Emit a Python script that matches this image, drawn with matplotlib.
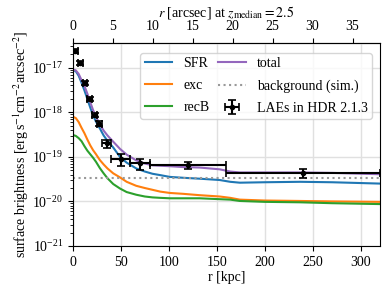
import numpy as np
import matplotlib
matplotlib.use("Agg")
import matplotlib.pyplot as plt

plt.rcParams['font.family'] = ['Liberation Serif', 'DejaVu Serif']
plt.rcParams['mathtext.fontset'] = 'stix'
plt.rcParams['font.size'] = 10

# model curves (log10 surface brightness) on radius grid [kpc]
r_model = [0, 3, 6, 9, 12, 15, 18, 21, 24, 28, 32, 36, 42, 49, 56, 66, 75, 83, 91, 101,
           115, 132, 153, 164, 174, 200, 237, 270, 320]
log_sfr = [-17.05, -17.08, -17.18, -17.34, -17.51, -17.70, -17.89, -18.07, -18.21, -18.36,
           -18.52, -18.64, -18.79, -19.00, -19.13, -19.26, -19.33, -19.38, -19.41, -19.45,
           -19.47, -19.49, -19.52, -19.56, -19.58, -19.57, -19.56, -19.57, -19.60]
log_total = [-17.04, -17.06, -17.14, -17.28, -17.41, -17.58, -17.77, -17.95, -18.10, -18.27,
             -18.41, -18.52, -18.66, -18.82, -18.95, -19.08, -19.15, -19.19, -19.20, -19.21,
             -19.23, -19.24, -19.28, -19.33, -19.35, -19.35, -19.35, -19.36, -19.39]
log_exc = [-18.10, -18.13, -18.22, -18.35, -18.47, -18.61, -18.74, -18.85, -18.94, -19.07,
           -19.17, -19.26, -19.37, -19.46, -19.56, -19.65, -19.70, -19.74, -19.78, -19.81,
           -19.83, -19.86, -19.89, -19.92, -19.96, -19.98, -19.99, -20.00, -20.01]
log_recB = [-18.51, -18.53, -18.58, -18.65, -18.76, -18.86, -18.94, -19.02, -19.11, -19.25,
            -19.37, -19.48, -19.61, -19.71, -19.79, -19.85, -19.89, -19.91, -19.92, -19.93,
            -19.93, -19.93, -19.95, -19.96, -19.99, -20.01, -20.02, -20.04, -20.06]

# LAE stacked measurements
r_lae = [2.5, 7.5, 12.5, 17.5, 22.5, 27.5, 35, 50, 70, 120, 240]
r_lae_err = [2.5, 2.5, 2.5, 2.5, 2.5, 2.5, 5, 10, 10, 40, 80]
sb_lae = [2.4e-17, 1.3e-17, 4.6e-18, 2.0e-18, 8.7e-19, 5.6e-19, 2.0e-19, 8.9e-20, 7.1e-20, 6.5e-20, 4.4e-20]
sb_lae_err = [2.5e-18, 1.4e-18, 5e-19, 2.2e-19, 1.0e-19, 6.5e-20, 4.0e-20, 2.6e-20, 2.0e-20, 1.1e-20, 1.05e-20]

background = 3.3e-20
kpc_per_arcsec = 8.33

fig = plt.figure(figsize=(3.9, 2.96), dpi=100)
ax = fig.add_axes([0.187, 0.169, 0.787, 0.686])

ax.plot(r_model, 10**np.array(log_sfr), color='C0', lw=1.5, label='SFR')
ax.plot(r_model, 10**np.array(log_exc), color='C1', lw=1.5, label='exc')
ax.plot(r_model, 10**np.array(log_recB), color='C2', lw=1.5, label='recB')
ax.plot(r_model, 10**np.array(log_total), color='C4', lw=1.5, label='total')
ax.axhline(background, color='0.6', ls=':', lw=1.5, label='background (sim.)')
ax.errorbar(r_lae, sb_lae, xerr=r_lae_err, yerr=sb_lae_err, fmt='o', color='k',
            ms=3, lw=1.5, capsize=3, capthick=1.2, label='LAEs in HDR 2.1.3')

ax.set_yscale('log')
ax.set_xlim(0, 320)
ax.set_ylim(1e-21, 3.6e-17)
ax.set_yticks([1e-21, 1e-20, 1e-19, 1e-18, 1e-17])
ax.grid(True, color='0.88', lw=1)
ax.set_axisbelow(True)
ax.set_xlabel('r [kpc]', labelpad=2)
ax.set_ylabel(r'surface brightness [erg$\,$s$^{-1}$cm$^{-2}$arcsec$^{-2}$]', labelpad=1)

sec = ax.secondary_xaxis('top', functions=(lambda x: x / kpc_per_arcsec, lambda x: x * kpc_per_arcsec))
sec.set_xticks(np.arange(0, 40, 5))
sec.set_xlabel(r'$r$ [arcsec] at $z_{\mathrm{median}} = 2.5$', labelpad=3)

ax.legend(ncol=2, loc='upper right', bbox_to_anchor=(0.974, 0.95), borderaxespad=0,
          fontsize=10, handlelength=2.0, columnspacing=0.6, labelspacing=0.65,
          borderpad=0.3, handletextpad=0.8)

fig.savefig('out.png', dpi=100)
